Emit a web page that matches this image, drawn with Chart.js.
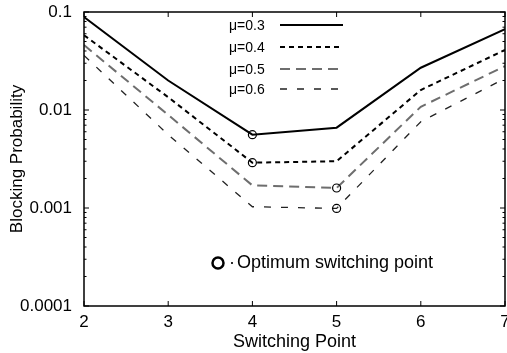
<!DOCTYPE html>
<html>
<head>
<meta charset="utf-8">
<script src="https://cdn.jsdelivr.net/npm/chart.js@4.4.1/dist/chart.umd.min.js"></script>
<style>
  body { margin: 0; background: #fff; }
  canvas { display: block; }
</style>
</head>
<body>
<canvas id="myChart" width="507" height="353"></canvas>
<script>
// values
const switchPoints = [2, 3, 4, 5, 6, 7];
const mu03 = [0.089, 0.020, 0.0056, 0.0066, 0.027, 0.067];
const mu04 = [0.058, 0.0135, 0.0029, 0.0030, 0.016, 0.041];
const mu05 = [0.046, 0.0089, 0.0017, 0.0016, 0.0108, 0.028];
const mu06 = [0.036, 0.0056, 0.00103, 0.00099, 0.0076, 0.021];
const seriesLabels = ['μ=0.3', 'μ=0.4', 'μ=0.5', 'μ=0.6'];
const optimumPoint = [4, 4, 5, 5];
const yTickValues = [0.0001, 0.001, 0.01, 0.1];
const yTickLabels = ['0.0001', '0.001', '0.01', '0.1'];

const FONT = '"Liberation Sans", Arial, sans-serif';

const styles = [
    { color: '#000', width: 2, dash: [] },
    { color: '#000', width: 2, dash: [5, 4] },
    { color: '#6e6e6e', width: 2, dash: [10, 6] },
    { color: '#222', width: 1.3, dash: [7, 10] }
];

const allSeries = [mu03, mu04, mu05, mu06];

const datasets = allSeries.map((vals, i) => ({
    label: seriesLabels[i],
    data: switchPoints.map((x, j) => ({ x: x, y: vals[j] })),
    borderColor: styles[i].color,
    borderWidth: styles[i].width,
    borderDash: styles[i].dash,
    pointStyle: 'circle',
    pointRadius: c => (c.raw && c.raw.x === optimumPoint[i]) ? 4 : 0,
    pointBorderColor: '#000',
    pointBorderWidth: 1.2,
    pointBackgroundColor: 'rgba(0,0,0,0)',
    tension: 0,
    fill: false
}));

const frameAndLegend = {
    id: 'frameAndLegend',
    afterDraw(chart) {
        const { ctx, chartArea: a, scales } = chart;
        const xs = scales.x, ys = scales.y;
        ctx.save();
        ctx.strokeStyle = '#000';
        ctx.lineWidth = 1.5;
        ctx.setLineDash([]);
        ctx.strokeRect(a.left, a.top, a.right - a.left, a.bottom - a.top);

        // inward ticks
        ctx.lineWidth = 1;
        ctx.beginPath();
        switchPoints.forEach(v => {
            const px = xs.getPixelForValue(v);
            ctx.moveTo(px, a.bottom); ctx.lineTo(px, a.bottom - 5);
            ctx.moveTo(px, a.top); ctx.lineTo(px, a.top + 5);
        });
        yTickValues.forEach(v => {
            const py = ys.getPixelForValue(v);
            ctx.moveTo(a.left, py); ctx.lineTo(a.left + 5, py);
            ctx.moveTo(a.right, py); ctx.lineTo(a.right - 5, py);
            if (v < 0.1) {
                for (let k = 2; k <= 9; k++) {
                    const pm = ys.getPixelForValue(v * k);
                    ctx.moveTo(a.left, pm); ctx.lineTo(a.left + 2.5, pm);
                    ctx.moveTo(a.right, pm); ctx.lineTo(a.right - 2.5, pm);
                }
            }
        });
        ctx.stroke();

        // legend
        const rows = [26, 48, 70, 90];
        ctx.font = '14px ' + FONT;
        ctx.fillStyle = '#000';
        ctx.textBaseline = 'middle';
        ctx.textAlign = 'left';
        seriesLabels.forEach((l, i) => {
            ctx.fillText(l, 229, rows[i]);
            ctx.beginPath();
            ctx.strokeStyle = styles[i].color;
            ctx.lineWidth = styles[i].width;
            ctx.setLineDash(styles[i].dash);
            ctx.moveTo(280, rows[i] - 1);
            ctx.lineTo(343, rows[i] - 1);
            ctx.stroke();
        });

        // optimum note
        ctx.setLineDash([]);
        ctx.strokeStyle = '#000';
        ctx.lineWidth = 2.5;
        ctx.beginPath();
        ctx.arc(218, 263, 5.5, 0, Math.PI * 2);
        ctx.stroke();
        ctx.font = '18px ' + FONT;
        ctx.fillText('·', 229, 263);
        ctx.fillText('Optimum switching point', 237, 263);
        ctx.restore();
    }
};

new Chart(document.getElementById('myChart'), {
    type: 'line',
    data: { datasets: datasets },
    options: {
        responsive: false,
        animation: false,
        layout: { padding: { left: 0, right: 2, top: 12, bottom: 0 } },
        plugins: {
            legend: { display: false },
            tooltip: { enabled: false }
        },
        scales: {
            x: {
                type: 'linear',
                min: 2,
                max: 7,
                grid: { display: false, drawTicks: false },
                border: { display: false },
                ticks: {
                    stepSize: 1,
                    padding: 6,
                    color: '#000',
                    font: { family: FONT, size: 17 }
                },
                title: {
                    display: true,
                    text: 'Switching Point',
                    color: '#000',
                    font: { family: FONT, size: 18 },
                    padding: { top: 0, bottom: 0 }
                },
                afterFit(scale) {
                    scale.height = 47;
                    scale.paddingLeft = 0;
                    scale.paddingRight = 0;
                }
            },
            y: {
                type: 'logarithmic',
                min: 0.0001,
                max: 0.1,
                grid: { display: false, drawTicks: false },
                border: { display: false },
                afterBuildTicks(scale) {
                    scale.ticks = yTickValues.map(v => ({ value: v }));
                },
                ticks: {
                    padding: 12,
                    color: '#000',
                    font: { family: FONT, size: 17 },
                    callback: v => {
                        const i = yTickValues.findIndex(t => Math.abs(t - v) / t < 1e-6);
                        return i >= 0 ? yTickLabels[i] : '';
                    }
                },
                title: {
                    display: true,
                    text: 'Blocking Probability',
                    color: '#000',
                    font: { family: FONT, size: 17 },
                    padding: { top: 7, bottom: 0 }
                },
                afterFit(scale) {
                    scale.width = 84;
                    scale.paddingTop = 0;
                    scale.paddingBottom = 0;
                }
            }
        }
    },
    plugins: [frameAndLegend]
});
</script>
</body>
</html>
